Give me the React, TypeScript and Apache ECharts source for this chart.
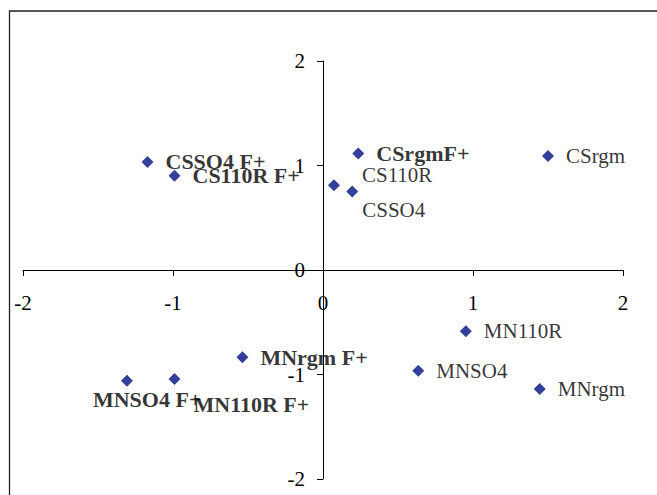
import React, { useEffect, useRef } from "react";
import * as echarts from "echarts";

const names = [
  "CSSO4 F+", "CS110R F+", "CSrgmF+", "CSrgm", "CS110R", "CSSO4",
  "MN110R", "MNSO4", "MNrgm", "MNrgm F+", "MN110R F+", "MNSO4 F+",
];
const xValues = [-1.17, -0.99, 0.235, 1.5, 0.073, 0.195, 0.952, 0.635, 1.445, -0.537, -0.99, -1.307];
const yValues = [1.034, 0.902, 1.114, 1.091, 0.811, 0.751, -0.585, -0.964, -1.139, -0.836, -1.044, -1.06];
const boldFlags = [true, true, true, false, false, false, false, false, false, true, true, true];
const labelOffsets: [number, number][] = [
  [0, 0], [0, 0], [0, 0], [0, 0], [10, -10], [-8, 18],
  [0, 0], [0, 0], [0, 0], [0, 0], [1, 25], [-52, 19],
];
const xTicks = [-2, -1, 0, 1, 2];
const yTicks = [-2, -1, 0, 1, 2];

const GRID = { left: 23, right: 34, top: 61, bottom: 16 };
const W = 657;
const H = 495;

export default function App() {
  const ref = useRef<HTMLDivElement>(null);
  useEffect(() => {
    if (!ref.current) return;
    const chart = echarts.init(ref.current, null, { renderer: "svg" });
    const font = "'Liberation Serif', 'Times New Roman', serif";
    const gw = W - GRID.left - GRID.right;
    const gh = H - GRID.top - GRID.bottom;
    const data = names.map((n, i) => ({
      name: n,
      value: [xValues[i], yValues[i]],
      label: {
        show: true,
        position: "right",
        distance: 12,
        offset: labelOffsets[i],
        formatter: n,
        fontFamily: font,
        fontSize: boldFlags[i] ? 22 : 21,
        fontWeight: boldFlags[i] ? "bold" : "normal",
        color: "#000",
      },
    }));
    chart.setOption({
      animation: false,
      backgroundColor: "#fff",
      graphic: [
        {
          type: "rect",
          shape: { x: 9.5, y: 11, width: 800, height: 700 },
          style: { fill: "none", stroke: "#222", lineWidth: 1.3 },
          silent: true,
          z: -1,
        },
      ],
      grid: { ...GRID, containLabel: false, outerBoundsMode: "none" },
      xAxis: {
        type: "value",
        position: "bottom",
        offset: -gh / 2,
        min: xTicks[0],
        max: xTicks[xTicks.length - 1],
        interval: 1,
        axisLine: { show: true, onZero: false, lineStyle: { color: "#000", width: 1 } },
        axisTick: { show: true, length: 6, lineStyle: { color: "#000" } },
        axisLabel: { margin: 22, fontFamily: font, fontSize: 21, color: "#000" },
        splitLine: { show: false },
      },
      yAxis: {
        type: "value",
        position: "left",
        offset: -gw / 2,
        min: yTicks[0],
        max: yTicks[yTicks.length - 1],
        interval: 1,
        axisLine: { show: true, onZero: false, lineStyle: { color: "#000", width: 1 } },
        axisTick: { show: true, length: 6, lineStyle: { color: "#000" } },
        axisLabel: { margin: 18, fontFamily: font, fontSize: 21, color: "#000" },
        splitLine: { show: false },
      },
      series: [
        {
          type: "scatter",
          symbol: "diamond",
          symbolSize: [12, 12],
          itemStyle: { color: "#001080" },
          data,
        },
      ],
    });
    return () => chart.dispose();
  }, []);
  return (
    <div
      ref={ref}
      style={{ position: "absolute", left: 0, top: 0, width: W, height: H }}
    />
  );
}
